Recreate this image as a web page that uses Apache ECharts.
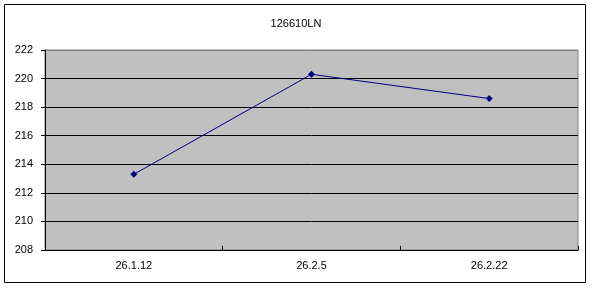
<!DOCTYPE html>
<html><head><meta charset="utf-8">
<script src="https://cdn.jsdelivr.net/npm/echarts@6/dist/echarts.min.js"></script>
<style>html,body{margin:0;padding:0;background:#fff}#c{width:592px;height:288px}</style>
</head><body><div id="c"></div>
<script>
const title = '126610LN';
const categories = ['26.1.12', '26.2.5', '26.2.22'];
const values = [213.3, 220.3, 218.6];
const yMin = 208, yMax = 222, yStep = 2;

const chart = echarts.init(document.getElementById('c'));
const splitColors = [];
for (let v = yMin; v <= yMax; v += yStep) splitColors.push(v === yMax ? '#808080' : '#000000');
chart.setOption({
  animation: false,
  title: { text: title, left: 'center', top: 13, textStyle: { fontSize: 11, fontWeight: 'normal', color: '#000', fontFamily: 'Liberation Sans' } },
  graphic: [{ type: 'rect', shape: { x: 4.5, y: 4.5, width: 581, height: 278 }, style: { fill: 'none', stroke: '#000', lineWidth: 1 }, silent: true }],
  grid: { left: 45, top: 50, right: 14, bottom: 38, show: true, backgroundColor: '#C0C0C0', borderColor: '#808080', borderWidth: 1 },
  xAxis: {
    type: 'category', data: categories, boundaryGap: true,
    axisLine: { lineStyle: { color: '#000', width: 1 } },
    axisTick: { show: true, inside: true, length: 4, interval: 0, lineStyle: { color: '#000' } },
    axisLabel: { margin: 10, fontSize: 11, color: '#000', fontFamily: 'Liberation Sans' },
    splitLine: { show: false }
  },
  yAxis: {
    type: 'value', min: yMin, max: yMax, interval: yStep,
    axisLine: { show: true, lineStyle: { color: '#000', width: 1 } },
    axisTick: { show: true, inside: false, length: 4, lineStyle: { color: '#000' } },
    axisLabel: { margin: 12, fontSize: 11, color: '#000', fontFamily: 'Liberation Sans' },
    splitLine: { show: true, lineStyle: { color: splitColors, width: 1 } }
  },
  series: [{
    type: 'line', data: values, symbol: 'diamond', symbolSize: 7,
    lineStyle: { color: '#000080', width: 1 }, itemStyle: { color: '#000080' }
  }]
});
</script></body></html>
